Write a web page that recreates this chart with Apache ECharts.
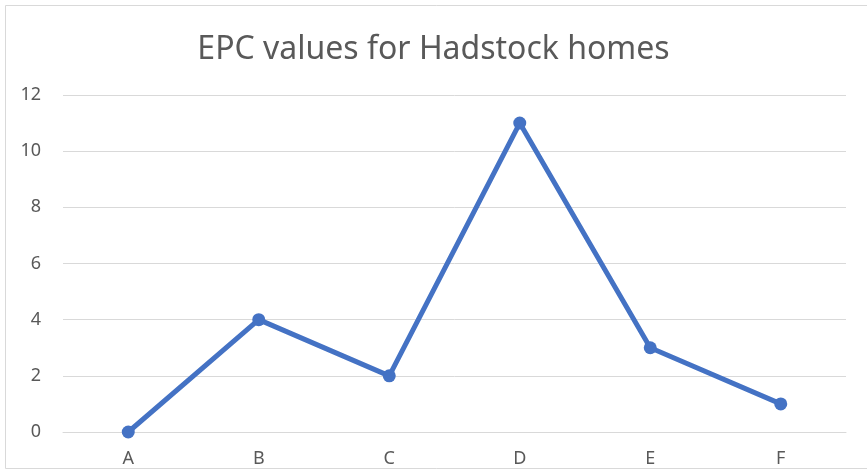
<!DOCTYPE html>
<html>
<head>
<meta charset="utf-8">
<script src="https://cdn.jsdelivr.net/npm/echarts@6/dist/echarts.min.js"></script>
<style>
html, body { margin: 0; padding: 0; background: #fff; }
#chart { width: 867px; height: 472px; }
</style>
</head>
<body>
<div id="chart"></div>
<script>
var categories = ['A', 'B', 'C', 'D', 'E', 'F'];
var epcValues = [0, 4, 2, 11, 3, 1];

var myChart = echarts.init(document.getElementById('chart'));

var option = {
	backgroundColor: '#fff',
	animation: false,
	title: {
		text: 'EPC values for Hadstock homes',
		left: 'center',
		top: 29,
		textStyle: {
			fontFamily: 'Noto Sans',
			fontWeight: 'normal',
			fontSize: 32,
			color: '#595959'
		}
	},
	graphic: [{
		type: 'rect',
		shape: { x: 5.5, y: 5.5, width: 880, height: 463 },
		style: { fill: 'none', stroke: '#d9d9d9', lineWidth: 1 },
		silent: true
	}],
	grid: {
		left: 63,
		right: 21,
		top: 95,
		bottom: 40,
		containLabel: false
	},
	xAxis: {
		type: 'category',
		data: categories,
		boundaryGap: true,
		axisLine: { show: true, lineStyle: { color: '#d9d9d9', width: 1 } },
		axisTick: { show: false },
		axisLabel: {
			color: '#595959',
			fontFamily: 'Noto Sans',
			fontSize: 18,
			margin: 18
		}
	},
	yAxis: {
		type: 'value',
		min: 0,
		max: 12,
		interval: 2,
		axisLine: { show: false },
		axisTick: { show: false },
		splitLine: { lineStyle: { color: '#d9d9d9', width: 1 } },
		axisLabel: {
			color: '#595959',
			fontFamily: 'Noto Sans',
			fontSize: 18,
			margin: 22
		}
	},
	series: [{
		type: 'line',
		data: epcValues,
		symbol: 'circle',
		symbolSize: 13,
		lineStyle: { color: '#4472c4', width: 5 },
		itemStyle: { color: '#4472c4' }
	}]
};

myChart.setOption(option);
</script>
</body>
</html>
